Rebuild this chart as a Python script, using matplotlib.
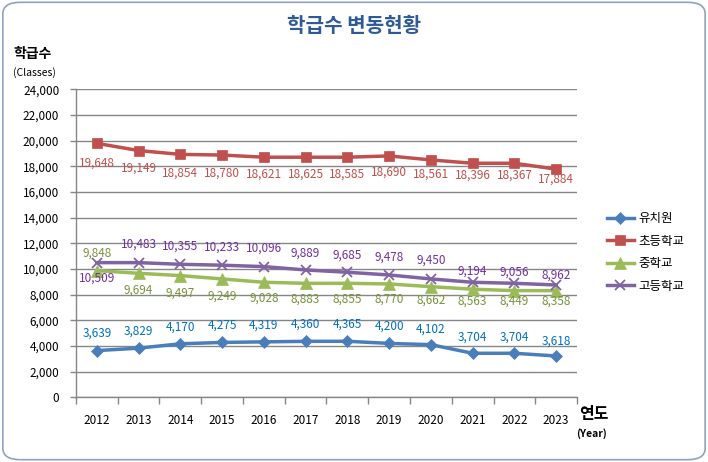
# classes_trend.py
# ----------------------------------------------------
# 학급수 변동현황 line chart
# ----------------------------------------------------

import matplotlib
matplotlib.use("Agg")
import matplotlib.pyplot as plt
from matplotlib.patches import FancyBboxPatch
from matplotlib.ticker import FuncFormatter, FixedLocator

plt.rcParams["font.family"] = ["Noto Sans CJK KR", "DejaVu Sans"]

# ----------------------------------------------------
# 1. Data (plotted positions, labels as shown)
# ----------------------------------------------------
years = ["2012", "2013", "2014", "2015", "2016", "2017",
         "2018", "2019", "2020", "2021", "2022", "2023"]

kinder = [3639, 3829, 4170, 4275, 4319, 4360, 4365, 4200, 4102, 3430, 3430, 3220]
elem = [19780, 19220, 18920, 18870, 18700, 18700, 18700, 18800, 18490, 18230, 18230, 17770]
middle = [9870, 9660, 9480, 9220, 8960, 8880, 8880, 8830, 8620, 8420, 8310, 8310]
high = [10490, 10490, 10360, 10290, 10180, 9920, 9740, 9530, 9220, 8960, 8880, 8750]

kinder_labels = ["3,639", "3,829", "4,170", "4,275", "4,319", "4,360",
                 "4,365", "4,200", "4,102", "3,704", "3,704", "3,618"]
elem_labels = ["19,648", "19,149", "18,854", "18,780", "18,621", "18,625",
               "18,585", "18,690", "18,561", "18,396", "18,367", "17,884"]
middle_labels = ["9,848", "9,694", "9,497", "9,249", "9,028", "8,883",
                 "8,855", "8,770", "8,662", "8,563", "8,449", "8,358"]
high_labels = ["10,509", "10,483", "10,355", "10,233", "10,096", "9,889",
               "9,685", "9,478", "9,450", "9,194", "9,056", "8,962"]

series_names = ["유치원", "초등학교", "중학교", "고등학교"]

# ----------------------------------------------------
# 2. Figure
# ----------------------------------------------------
fig = plt.figure(figsize=(7.08, 4.62), dpi=100)
fig.patches.append(FancyBboxPatch((0.004, 0.005), 0.992, 0.99,
                                  boxstyle="round,pad=0,rounding_size=0.025",
                                  transform=fig.transFigure, facecolor="none",
                                  edgecolor="#8DA3C1", linewidth=1.2, zorder=-1))

ax = fig.add_axes([0.1073, 0.140, 0.7077, 0.667])
ax.set_facecolor("none")

x = list(range(len(years)))
styles = [
    (kinder, kinder_labels, "#4A7EBB", "D", 6, "#0070C0"),
    (elem, elem_labels, "#C0504D", "s", 7.5, "#C0504D"),
    (middle, middle_labels, "#9BBB59", "^", 8, "#77933C"),
    (high, high_labels, "#8064A2", "x", 7, "#7030A0"),
]

# vertical label offsets (pixels) per point
offsets = [
    [17, 17, 17, 17, 17, 17, 17, 17, 16, 16, 16, 15],
    [-20, -18, -19, -18, -17, -17, -17, -16, -14, -12, -12, -10],
    [17, -17, -18, -17, -16, -16, -16, -15, -13, -12, -11, -11],
    [-16, 18, 18, 18, 18, 17, 17, 18, 19, 11, 11, 10],
]

for (vals, labels, col, mk, ms, lcol), name, offs in zip(styles, series_names, offsets):
    ax.plot(x, vals, color=col, linewidth=2.5, marker=mk, markersize=ms,
            markeredgewidth=1.3 if mk == "x" else 0.5,
            markeredgecolor=col, markerfacecolor=col, label=name, zorder=3)
    for xi, v, lab, dy in zip(x, vals, labels, offs):
        ax.annotate(lab, (xi, v), xytext=(0, dy), textcoords="offset pixels",
                    ha="center", va="center", fontsize=8.5, color=lcol, zorder=4)

# ----------------------------------------------------
# 3. Axes styling
# ----------------------------------------------------
ax.set_xlim(-0.5, len(years) - 0.5)
ax.set_ylim(0, 24000)
ax.set_yticks(range(0, 24001, 2000))
ax.yaxis.set_major_formatter(FuncFormatter(lambda v, p: f"{int(v):,}"))
ax.grid(axis="y", color="#868686", linewidth=1)
ax.set_axisbelow(True)

ax.set_xticks(x)
ax.set_xticklabels(years)
ax.xaxis.set_minor_locator(FixedLocator([i - 0.5 for i in range(len(years) + 1)]))
ax.tick_params(axis="x", which="major", length=0, pad=12, labelsize=8.5)
ax.tick_params(axis="x", which="minor", length=5, color="#868686", width=1)
ax.tick_params(axis="y", length=4, color="#868686", width=1, labelsize=8.5, pad=8)

for s in ["top", "right"]:
    ax.spines[s].set_visible(False)
for s in ["left", "bottom"]:
    ax.spines[s].set_color("#868686")
    ax.spines[s].set_linewidth(1)

# ----------------------------------------------------
# 4. Texts and legend
# ----------------------------------------------------
fig.text(0.5, 0.945, "학급수 변동현황", ha="center", va="center",
         fontsize=14.5, fontweight="bold", color="#2F5B95")
fig.text(0.046, 0.884, "학급수", ha="center", va="center", fontsize=10, fontweight="bold")
fig.text(0.048, 0.843, "(Classes)", ha="center", va="center", fontsize=7.5)
fig.text(0.839, 0.104, "연도", ha="center", va="center", fontsize=11.5, fontweight="bold")
fig.text(0.835, 0.062, "(Year)", ha="center", va="center", fontsize=7.5, fontweight="bold")

ax.legend(loc="center left", bbox_to_anchor=(1.038, 0.47), frameon=False,
          fontsize=9, handlelength=2.1, labelspacing=0.75, handletextpad=0.4)

plt.savefig("out.png", dpi=100)
plt.close()
